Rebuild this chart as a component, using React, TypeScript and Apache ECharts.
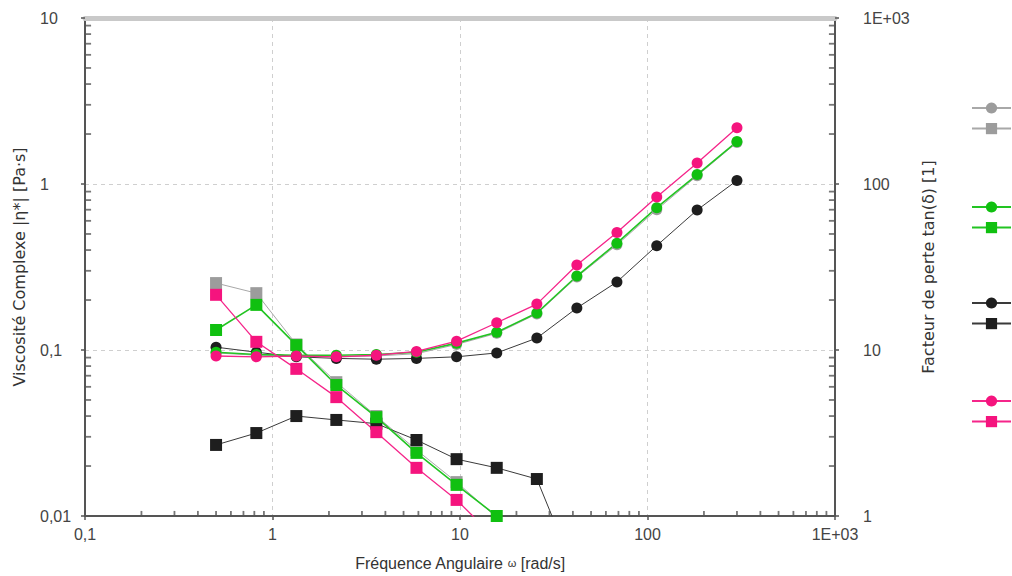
import React, { useEffect, useRef } from 'react';
import * as echarts from 'echarts';

// Angular frequency ω [rad/s]
const freq = [0.5, 0.82, 1.34, 2.19, 3.58, 5.86, 9.59, 15.7, 25.7, 42, 68.7, 112, 184, 300];

// Complex viscosity |η*| [Pa·s] (circles, left axis)
const etaGray = [0.096, 0.093, 0.092, 0.091, 0.092, 0.095, 0.108, 0.126, 0.165, 0.275, 0.43, 0.7, 1.12, 1.78];
const etaBlack = [0.104, 0.097, 0.091, 0.089, 0.088, 0.089, 0.091, 0.096, 0.118, 0.179, 0.257, 0.425, 0.697, 1.05];
const etaGreen = [0.097, 0.094, 0.093, 0.093, 0.094, 0.097, 0.11, 0.128, 0.167, 0.279, 0.44, 0.72, 1.14, 1.8];
const etaPink = [0.092, 0.091, 0.092, 0.091, 0.093, 0.098, 0.113, 0.146, 0.189, 0.325, 0.51, 0.835, 1.34, 2.18];

// Loss factor tan(δ) [1] (squares, right axis)
const tanGray = [25.3, 22, 10.8, 6.4, 4.0, 2.5, 1.6, 0.98, 0.5];
const tanBlack = [2.68, 3.16, 4.0, 3.79, 3.6, 2.87, 2.2, 1.95, 1.67, 0.43];
const tanGreen = [13.2, 18.7, 10.7, 6.15, 3.94, 2.4, 1.54, 1.0, 0.5];
const tanPink = [21.5, 11.2, 7.7, 5.2, 3.2, 1.95, 1.25, 0.72];

const xTickLabels = ['0,1', '1', '10', '100', '1E+03']; // decades 10^-1 .. 10^3
const yLeftTickLabels = ['0,01', '0,1', '1', '10']; // 10^-2 .. 10^1
const yRightTickLabels = ['1', '10', '100', '1E+03']; // 10^0 .. 10^3

const xName = 'Fréquence Angulaire {w|ω} [rad/s]';
const yLeftName = 'Viscosité Complexe |η*| [Pa·s]';
const yRightName = 'Facteur de perte tan(δ) [1]';

const groups = [
  { key: 'Gris', color: '#9c9c9c', line: '#a8a8a8', lw: 1, eta: etaGray, tan: tanGray },
  { key: 'Vert', color: '#10c010', line: '#22c422', lw: 1.6, eta: etaGreen, tan: tanGreen },
  { key: 'Noir', color: '#1e1e1e', line: '#3a3a3a', lw: 1, eta: etaBlack, tan: tanBlack },
  { key: 'Rose', color: '#f5147e', line: '#f5258a', lw: 1.3, eta: etaPink, tan: tanPink },
];
const drawOrder = ['Gris', 'Noir', 'Vert', 'Rose'];

// minor tick values k·10^e (k = 2..9) between the given decades
function minorValues(from: number, to: number) {
  const out: number[] = [];
  for (let e = from; e < to; e++) {
    for (let k = 2; k <= 9; k++) out.push(k * Math.pow(10, e));
  }
  return out;
}
const exp10 = (v: number) => Math.round(Math.log10(v));

const SANS = 'Liberation Sans, Arial, sans-serif';
const WIDE = 'DejaVu Sans, sans-serif';
const AXIS_COLOR = '#555';

export default function App() {
  const ref = useRef<HTMLDivElement>(null);
  useEffect(() => {
    if (!ref.current) return;
    const chart = echarts.init(ref.current, undefined, { renderer: 'svg' });
    const labelStyle = { color: '#444', fontSize: 16, fontFamily: SANS };

    const series: any[] = [];
    drawOrder.forEach((k) => {
      const g = groups.find((x) => x.key === k)!;
      series.push({
        name: g.key + ' |η*|',
        type: 'line',
        xAxisIndex: 0,
        yAxisIndex: 0,
        data: g.eta.map((v, i) => [freq[i], v]),
        symbol: 'circle',
        symbolSize: 11,
        itemStyle: { color: g.color },
        lineStyle: { color: g.line, width: g.lw },
        clip: true,
      });
      series.push({
        name: g.key + ' tan(δ)',
        type: 'line',
        xAxisIndex: 0,
        yAxisIndex: 1,
        data: g.tan.map((v, i) => [freq[i], v]),
        symbol: 'rect',
        symbolSize: 12,
        itemStyle: { color: g.color },
        lineStyle: { color: g.line, width: g.lw },
        clip: true,
      });
    });

    // minor ticks (inside the frame), placed through the axes' own log scales
    const tickBase = {
      type: 'scatter',
      silent: true,
      clip: false,
      symbol: 'rect',
      itemStyle: { color: AXIS_COLOR },
      z: 6,
    };
    series.push({
      ...tickBase,
      xAxisIndex: 0,
      yAxisIndex: 0,
      symbolSize: [1.8, 5],
      symbolOffset: [0, -2.5],
      data: minorValues(-1, 3).map((v) => [v, 0.01001]),
    });
    series.push({
      ...tickBase,
      xAxisIndex: 0,
      yAxisIndex: 0,
      symbolSize: [6, 1.8],
      symbolOffset: [3, 0],
      data: minorValues(-2, 1).map((v) => [0.1001, v]),
    });
    series.push({
      ...tickBase,
      xAxisIndex: 0,
      yAxisIndex: 1,
      symbolSize: [6, 1.8],
      symbolOffset: [-3, 0],
      data: minorValues(0, 3).map((v) => [999, v]),
    });

    const legendTops = [101, 200, 296, 394];
    const legends = groups.map((g, i) => ({
      orient: 'vertical',
      left: 971,
      top: legendTops[i],
      padding: 0,
      itemWidth: 39,
      itemHeight: 14,
      itemGap: 8,
      formatter: () => '',
      data: [g.key + ' |η*|', g.key + ' tan(δ)'],
    }));

    chart.setOption({
      animation: false,
      backgroundColor: '#fff',
      grid: { left: 85, right: 177, top: 18, bottom: 60, containLabel: false },
      legend: legends,
      xAxis: [
        {
          type: 'log',
          logBase: 10,
          min: 0.1,
          max: 1000,
          position: 'bottom',
          name: xName,
          nameLocation: 'middle',
          nameGap: 39,
          nameTextStyle: {
            color: '#333',
            fontSize: 16,
            fontFamily: SANS,
            rich: { w: { fontSize: 11, fontFamily: SANS, color: '#333' } },
          },
          axisLine: { show: true, onZero: false, lineStyle: { color: AXIS_COLOR, width: 2 } },
          axisTick: { show: true, inside: false, length: 4, lineStyle: { color: AXIS_COLOR, width: 1.5 } },
          axisLabel: { ...labelStyle, margin: 10, formatter: (v: number) => xTickLabels[exp10(v) + 1] ?? '' },
          splitLine: { show: true, lineStyle: { color: '#cfcfcf', type: [4, 4], width: 1 } },
        },
        {
          type: 'log',
          logBase: 10,
          min: 0.1,
          max: 1000,
          position: 'top',
          axisLine: { show: true, onZero: false, lineStyle: { color: '#c9c9c9', width: 5 } },
          axisTick: { show: false },
          axisLabel: { show: false },
          splitLine: { show: false },
        },
      ],
      yAxis: [
        {
          type: 'log',
          logBase: 10,
          min: 0.01,
          max: 10,
          position: 'left',
          name: yLeftName,
          nameLocation: 'middle',
          nameGap: 58,
          nameTextStyle: { color: '#333', fontSize: 16, fontFamily: WIDE },
          axisLine: { show: true, onZero: false, lineStyle: { color: AXIS_COLOR, width: 2 } },
          axisTick: { show: true, inside: false, length: 4, lineStyle: { color: AXIS_COLOR, width: 1.5 } },
          axisLabel: { ...labelStyle, margin: 45, align: 'left', formatter: (v: number) => yLeftTickLabels[exp10(v) + 2] ?? '' },
          splitLine: { show: true, lineStyle: { color: '#cfcfcf', type: [4, 4], width: 1 } },
        },
        {
          type: 'log',
          logBase: 10,
          min: 1,
          max: 1000,
          position: 'right',
          name: yRightName,
          nameLocation: 'middle',
          nameGap: 74,
          nameTextStyle: { color: '#333', fontSize: 16, fontFamily: WIDE },
          axisLine: { show: true, onZero: false, lineStyle: { color: AXIS_COLOR, width: 2 } },
          axisTick: { show: true, inside: false, length: 4, lineStyle: { color: AXIS_COLOR, width: 1.5 } },
          axisLabel: { ...labelStyle, margin: 28, formatter: (v: number) => yRightTickLabels[exp10(v)] ?? '' },
          splitLine: { show: false },
        },
      ],
      series,
    });
    return () => chart.dispose();
  }, []);

  return (
    <div
      ref={ref}
      style={{ position: 'fixed', left: 0, top: 0, width: 1012, height: 576, background: '#fff' }}
    />
  );
}
